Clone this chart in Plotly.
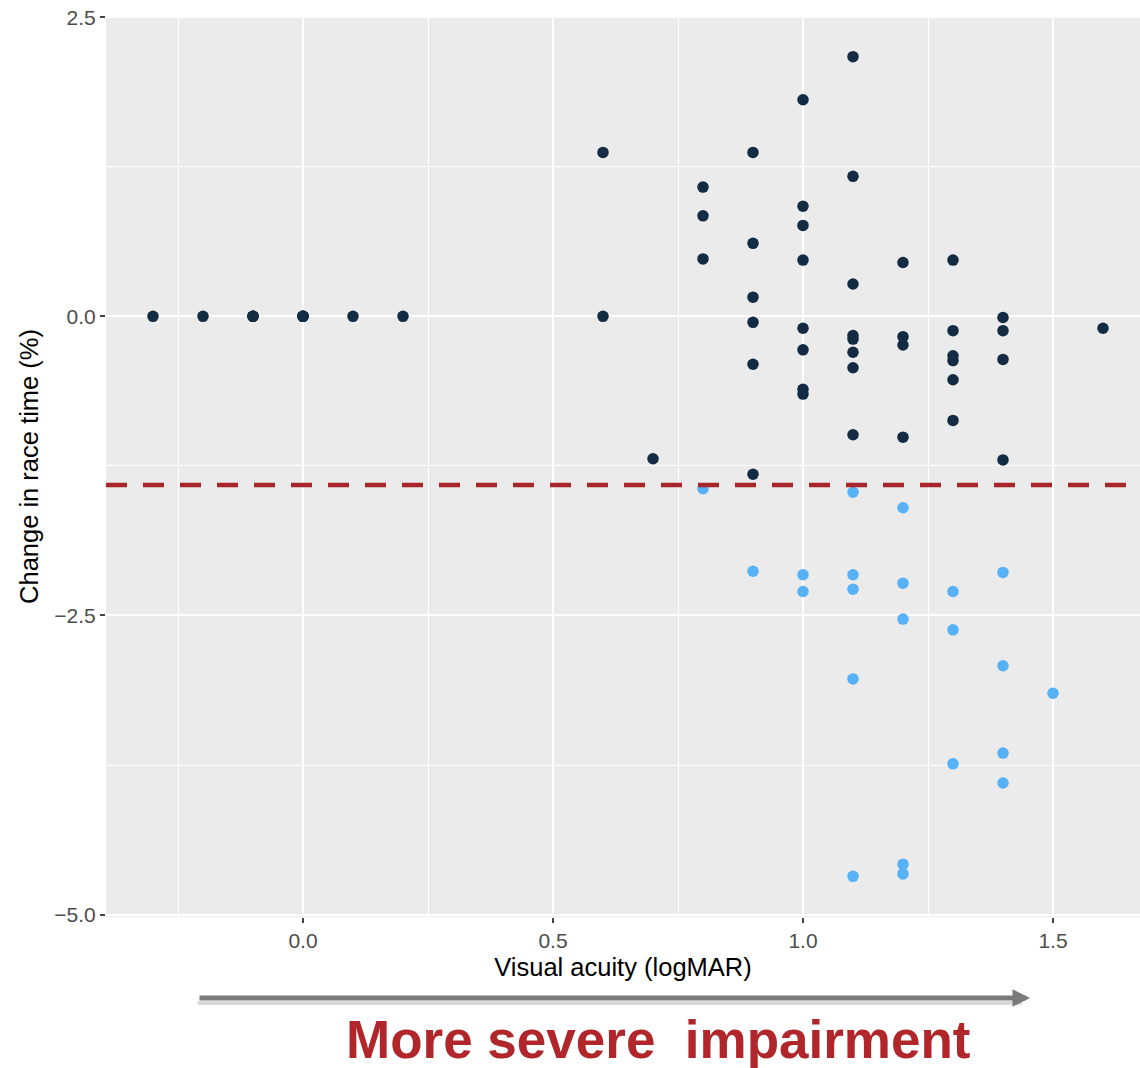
import plotly.graph_objects as go

# Athletes whose race time change stayed above the threshold (dark)
dark_x = [-0.3, -0.2, -0.1, -0.1, -0.1, 0.0, 0.0, 0.0, 0.0, 0.1, 0.2,
          0.6, 0.6,
          0.7,
          0.8, 0.8, 0.8,
          0.9, 0.9, 0.9, 0.9, 0.9, 0.9,
          1.0, 1.0, 1.0, 1.0, 1.0, 1.0, 1.0, 1.0,
          1.1, 1.1, 1.1, 1.1, 1.1, 1.1, 1.1, 1.1,
          1.2, 1.2, 1.2, 1.2,
          1.3, 1.3, 1.3, 1.3, 1.3, 1.3,
          1.4, 1.4, 1.4, 1.4,
          1.6]
dark_y = [0.0, 0.0, 0.0, 0.0, 0.0, 0.0, 0.0, 0.0, 0.0, 0.0, 0.0,
          1.37, 0.0,
          -1.19,
          1.08, 0.84, 0.48,
          1.37, 0.61, 0.16, -0.05, -0.40, -1.32,
          1.81, 0.92, 0.76, 0.47, -0.10, -0.28, -0.61, -0.65,
          2.17, 1.17, 0.27, -0.16, -0.19, -0.30, -0.43, -0.99,
          0.45, -0.17, -0.24, -1.01,
          0.47, -0.12, -0.33, -0.37, -0.53, -0.87,
          -0.01, -0.12, -0.36, -1.20,
          -0.10]

# Athletes below the threshold (light)
light_x = [0.8,
           0.9,
           1.0, 1.0,
           1.1, 1.1, 1.1, 1.1, 1.1,
           1.2, 1.2, 1.2, 1.2, 1.2,
           1.3, 1.3, 1.3,
           1.4, 1.4, 1.4, 1.4,
           1.5]
light_y = [-1.44,
           -2.13,
           -2.16, -2.30,
           -1.47, -2.16, -2.28, -3.03, -4.68,
           -1.60, -2.23, -2.53, -4.58, -4.66,
           -2.30, -2.62, -3.74,
           -2.14, -2.92, -3.65, -3.90,
           -3.15]

threshold = -1.41

x_ticks = [0.0, 0.5, 1.0, 1.5]
x_tick_labels = ["0.0", "0.5", "1.0", "1.5"]
y_ticks = [-5.0, -2.5, 0.0, 2.5]
y_tick_labels = ["\u22125.0", "\u22122.5", "0.0", "2.5"]

FONT = "Liberation Sans, Arial, Helvetica, sans-serif"

fig = go.Figure()
fig.add_trace(go.Scatter(x=dark_x, y=dark_y, mode="markers",
                         marker=dict(size=11.5, color="#132B43"),
                         showlegend=False, hoverinfo="x+y"))
fig.add_trace(go.Scatter(x=light_x, y=light_y, mode="markers",
                         marker=dict(size=11.5, color="#56B1F7"),
                         showlegend=False, hoverinfo="x+y"))

fig.add_shape(type="line", xref="paper", yref="y", x0=0, x1=1,
              y0=threshold, y1=threshold,
              line=dict(color="#A8262A", width=4.5, dash="21px,16px"))

L, T, B = 106, 16, 151
W, H = 1140, 1068
pw = W - L
ph = H - T - B

def px_to_paper(px, py):
    return (px - L) / pw, (H - B - py) / ph

# arrow shadow
sx, sy = px_to_paper(1022, 1003)
fig.add_annotation(xref="paper", yref="paper", x=sx, y=sy, ax=-826, ay=0,
                   showarrow=True, arrowhead=0, arrowwidth=4,
                   arrowcolor="#DADADA", text="")
ax_, ay_ = px_to_paper(1030, 998)
fig.add_annotation(xref="paper", yref="paper", x=ax_, y=ay_, ax=-832, ay=0,
                   showarrow=True, arrowhead=2, arrowsize=0.7, arrowwidth=5,
                   arrowcolor="#7A7A7A", text="")

tx, ty = px_to_paper(658, 1039)
fig.add_annotation(xref="paper", yref="paper", x=tx, y=ty, showarrow=False,
                   text="<b>More severe  impairment</b>",
                   font=dict(family=FONT, size=53, color="#B0262A"),
                   xanchor="center", yanchor="middle")

axis_common = dict(
    showgrid=True, gridcolor="white", gridwidth=2,
    zeroline=False, showline=False,
    ticks="outside", ticklen=5, tickwidth=1.5, tickcolor="#444444",
    tickfont=dict(family=FONT, size=21, color="#4D4D4D"),
    minor=dict(showgrid=True, gridcolor="white", gridwidth=1, ticks=""),
)

fig.update_xaxes(**axis_common, range=[-0.394, 1.674],
                 tickvals=x_ticks, ticktext=x_tick_labels,
                 title=dict(text="Visual acuity (logMAR)", standoff=6,
                            font=dict(family=FONT, size=25.5, color="black")))
fig.update_xaxes(minor=dict(tickvals=[-0.25, 0.25, 0.75, 1.25]))
fig.update_yaxes(**axis_common, range=[-5.02, 2.51],
                 tickvals=y_ticks, ticktext=y_tick_labels,
                 title=dict(text="Change in race time (%)", standoff=8,
                            font=dict(family=FONT, size=25.5, color="black")))
fig.update_yaxes(minor=dict(tickvals=[-3.75, -1.25, 1.25]))

fig.update_layout(
    width=W, height=H,
    margin=dict(l=L, r=0, t=T, b=B, autoexpand=False),
    plot_bgcolor="#EBEBEB", paper_bgcolor="white",
    font=dict(family=FONT),
)

fig.write_html("out.html",
               config={"displayModeBar": False},
               post_script="document.body.style.margin='0px';document.body.style.overflow='hidden';")
